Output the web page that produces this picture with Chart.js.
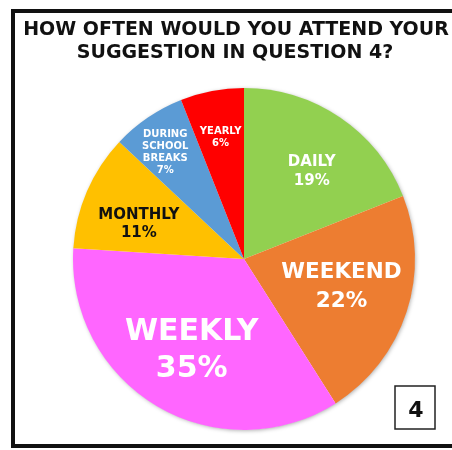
<html>
<head>
<script src="https://cdn.jsdelivr.net/npm/chart.js@4/dist/chart.umd.min.js"></script>
<style>
 body { margin: 0; background: #fff; }
</style>
</head>
<body>
<canvas id="myChart" width="452" height="450"></canvas>
<script>
 // data
 var categories = ["DAILY", "WEEKEND", "WEEKLY", "MONTHLY", "DURING SCHOOL BREAKS", "YEARLY"];
 var percents = [19, 22, 35, 11, 7, 6];
 var colours = ["#92D050", "#ED7D31", "#FF66FF", "#FFC000", "#5B9BD5", "#FF0000"];
 var titleLines = ["HOW OFTEN WOULD YOU ATTEND YOUR", "SUGGESTION IN QUESTION 4?"];
 var pageNumber = "4";

 // label look per slice (size, colour, how far out, angle nudge, wrapped lines)
 var labelStyle = [
 {size: 15, color: "#fff", r: 0.655, shift: 3, lines: ["DAILY"], gap: 19},
 {size: 21.5, color: "#fff", r: 0.59, shift: -3, lines: ["WEEKEND"], gap: 29},
 {size: 30, color: "#fff", r: 0.6, shift: 0, lines: ["WEEKLY"], gap: 37},
 {size: 15, color: "#111", r: 0.65, shift: -4.5, lines: ["MONTHLY"], gap: 18},
 {size: 10, color: "#fff", r: 0.78, shift: -2, lines: ["DURING", "SCHOOL", "BREAKS"], gap: 12},
 {size: 10, color: "#fff", r: 0.73, shift: 0, lines: ["YEARLY"], gap: 12}
 ];

 var decor = {
 id: "decor",
 beforeDraw: function(chart) {
 var ctx = chart.ctx;
 ctx.save();
 ctx.fillStyle = "#fff";
 ctx.fillRect(0, 0, chart.width, chart.height);
 ctx.restore();
 },
 beforeDatasetsDraw: function(chart) {
 // soft shadow round the whole pie
 var arc = chart.getDatasetMeta(0).data[0];
 var ctx = chart.ctx;
 ctx.save();
 ctx.shadowColor = "rgba(0,0,0,0.35)";
 ctx.shadowBlur = 4;
 ctx.shadowOffsetX = 1;
 ctx.shadowOffsetY = 1;
 ctx.fillStyle = "#fff";
 ctx.beginPath();
 ctx.arc(arc.x, arc.y, arc.outerRadius - 0.5, 0, Math.PI * 2);
 ctx.fill();
 ctx.restore();
 },
 afterDraw: function(chart) {
 var ctx = chart.ctx;
 var meta = chart.getDatasetMeta(0);
 ctx.save();
 ctx.textAlign = "center";
 ctx.textBaseline = "alphabetic";

 // slice labels
 meta.data.forEach(function(arc, i) {
 var st = labelStyle[i];
 var mid = (arc.startAngle + arc.endAngle) / 2 + st.shift * Math.PI / 180;
 var rr = arc.outerRadius * st.r;
 var cx = arc.x + Math.cos(mid) * rr;
 var cy = arc.y + Math.sin(mid) * rr;
 var lines = st.lines.concat([percents[i] + "%"]);
 var cap = st.size * 0.73;
 var total = (lines.length - 1) * st.gap + cap;
 var y0 = cy - total / 2 + cap;
 ctx.font = "bold " + st.size + "px 'DejaVu Sans', Verdana, sans-serif";
 ctx.fillStyle = st.color;
 lines.forEach(function(t, k) {
 ctx.fillText(t, cx, y0 + k * st.gap);
 });
 });

 // title
 ctx.fillStyle = "#111";
 ctx.font = "bold 19px 'DejaVu Sans', Verdana, sans-serif";
 ctx.fillText(titleLines[0], 236, 35);
 ctx.fillText(titleLines[1], 235, 58);

 // outer frame (runs off the right side)
 ctx.strokeStyle = "#111";
 ctx.lineWidth = 4;
 ctx.strokeRect(13, 11, 470, 435);

 // page number box
 ctx.lineWidth = 1.5;
 ctx.strokeStyle = "#222";
 ctx.strokeRect(395, 386, 40, 43);
 ctx.font = "bold 22px 'DejaVu Sans', Verdana, sans-serif";
 ctx.fillStyle = "#111";
 ctx.fillText(pageNumber, 416, 417);
 ctx.restore();
 }
 };

 new Chart("myChart", {
 type: "pie",
 data: {
 labels: categories,
 datasets: [{
 data: percents,
 backgroundColor: colours,
 borderWidth: 0
 }]
 },
 options: {
 responsive: false,
 animation: false,
 layout: { padding: { left: 73, right: 37, top: 88, bottom: 20 } },
 plugins: {
 legend: { display: false },
 tooltip: { enabled: false }
 }
 },
 plugins: [decor]
 });
</script>
</body>
</html>
